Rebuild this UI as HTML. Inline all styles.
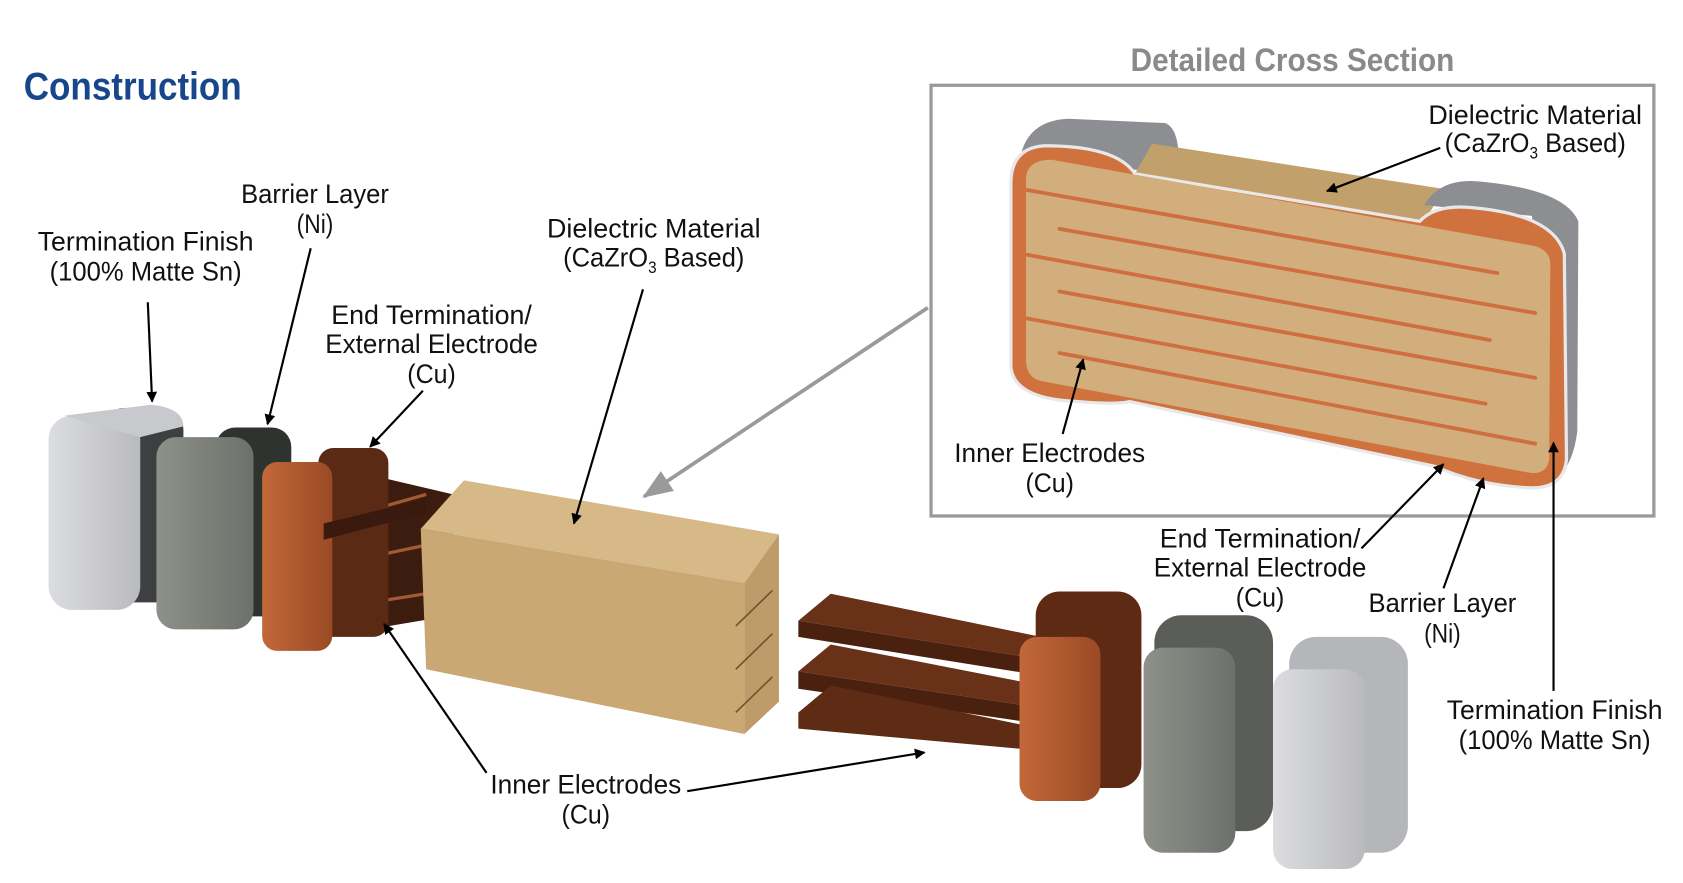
<!DOCTYPE html>
<html><head><meta charset="utf-8"><style>
html,body{margin:0;padding:0;background:#fff;}
svg{display:block;}
text{font-family:"Liberation Sans Narrow","Liberation Sans",sans-serif;font-size:25px;fill:#111;text-anchor:middle;}
</style></head><body>
<svg width="1683" height="883" viewBox="0 0 1560 818" preserveAspectRatio="none" xmlns="http://www.w3.org/2000/svg">
<defs>
<marker id="ah" markerWidth="10" markerHeight="10" refX="9" refY="5" orient="auto" markerUnits="userSpaceOnUse" viewBox="0 0 10 10"><path d="M0,0 L10,5 L0,10 z" fill="#000"/></marker>
<marker id="ag" markerWidth="28" markerHeight="22" refX="26" refY="11" orient="auto" markerUnits="userSpaceOnUse" viewBox="0 0 28 22"><path d="M0,0 L28,11 L0,22 z" fill="#9a9a9a"/></marker>
<linearGradient id="sn" x1="0" x2="1"><stop offset="0" stop-color="#dcdde0"/><stop offset="1" stop-color="#b9babd"/></linearGradient>
<linearGradient id="ni" x1="0" x2="1"><stop offset="0" stop-color="#8e918a"/><stop offset="1" stop-color="#6d716b"/></linearGradient>
<linearGradient id="cu" x1="0" x2="1"><stop offset="0" stop-color="#c2683a"/><stop offset="1" stop-color="#9a4a24"/></linearGradient>
</defs>

<text x="22" y="92" textLength="202" lengthAdjust="spacingAndGlyphs" style="font-size:36px;font-weight:bold;fill:#17478a;text-anchor:start">Construction</text>
<text x="1198" y="66" textLength="300" lengthAdjust="spacingAndGlyphs" style="font-size:30px;font-weight:bold;fill:#8a8a8a">Detailed Cross Section</text>

<!-- inset box -->
<rect x="863" y="79" width="670" height="399" fill="none" stroke="#999" stroke-width="3"/>
<!-- inset chip -->
<path d="M945,150 Q950,112 990,110 L1080,114 Q1095,120 1092,160 Z" fill="#8d8e92"/>
<path d="M1068,133 L1338,175 L1320,206 L1052,161 Z" fill="#c2a06c"/>
<path d="M1320,190 Q1335,165 1370,168 Q1450,175 1463,205 L1462,400 Q1458,430 1445,440 L1420,200 Z" fill="#8d8e92"/>
<path d="M937,170 Q937,137 968,135 Q1035,135 1052,161 L1316,205 Q1330,190 1360,192 Q1440,198 1450,235 L1452,425 Q1450,452 1420,452 Q1370,450 1330,432 L1047,372 Q1035,375 1000,372 Q940,370 937,340 Z" fill="#d0723e" stroke="#e8e8ea" stroke-width="3"/>
<path d="M951,165 Q952,148 975,148 L1423,228 Q1437,232 1437,245 L1436,425 Q1434,440 1418,438 L965,353 Q952,350 951,335 Z" fill="#d2ae7c"/>
<g stroke="#cf6f3f" stroke-width="3.5" fill="none" stroke-linecap="round">
<line x1="952" y1="176" x2="1388" y2="253"/>
<line x1="982" y1="212" x2="1423" y2="290"/>
<line x1="952" y1="236" x2="1381" y2="315"/>
<line x1="982" y1="270" x2="1423" y2="350"/>
<line x1="952" y1="295" x2="1377" y2="374"/>
<line x1="982" y1="327" x2="1423" y2="411"/>
</g>

<!-- gray connector -->
<line x1="860" y1="285" x2="597" y2="460" stroke="#9a9a9a" stroke-width="3.5" marker-end="url(#ag)"/>

<!-- left Sn -->
<rect x="95" y="378" width="75" height="180" rx="20" fill="#3e3f41"/>
<rect x="45" y="385" width="85" height="180" rx="22" fill="url(#sn)"/>
<path d="M60,385 L140,375 Q170,378 170,395 L130,405 Z" fill="#c8c9cc"/>
<!-- left Ni -->
<rect x="200" y="396" width="70" height="175" rx="18" fill="#2f332f"/>
<rect x="145" y="405" width="90" height="178" rx="18" fill="url(#ni)"/>
<!-- left Cu cap + electrodes -->
<polygon points="300,430 420,458 420,570 300,590" fill="#3d1c10"/>
<g stroke="#a35a34" stroke-width="3"><line x1="300" y1="485" x2="395" y2="458"/><line x1="300" y1="525" x2="395" y2="505"/><line x1="300" y1="565" x2="395" y2="550"/></g>
<rect x="295" y="415" width="65" height="175" rx="14" fill="#5a2a14"/>
<rect x="243" y="428" width="65" height="175" rx="14" fill="url(#cu)"/>
<polygon points="300,485 395,462 395,475 300,500" fill="#3a1a0e"/>
<!-- dielectric block -->
<polygon points="390,490 430,445 722,495 690,540" fill="#d7b987"/>
<polygon points="690,540 722,495 722,650 690,680" fill="#bd9c69"/>
<polygon points="390,490 690,540 690,680 395,620" fill="#c9a874"/>
<g stroke="#6e5330" stroke-width="1.5"><line x1="682" y1="580" x2="716" y2="547"/><line x1="682" y1="620" x2="716" y2="587"/><line x1="682" y1="660" x2="716" y2="627"/></g>

<!-- right electrodes -->
<polygon points="740,575 770,550 965,590 960,610" fill="#6a3119"/>
<polygon points="740,575 960,610 960,625 740,590" fill="#4a200e"/>
<polygon points="740,622 770,597 965,635 960,655" fill="#6a3119"/>
<polygon points="740,622 960,655 960,670 740,638" fill="#4a200e"/>
<polygon points="740,660 770,635 965,675 960,695 740,675" fill="#5e2b15"/>
<!-- right Cu cap -->
<rect x="960" y="548" width="98" height="182" rx="22" fill="#5e2a13"/>
<rect x="945" y="590" width="75" height="152" rx="16" fill="url(#cu)"/>
<!-- right Ni -->
<rect x="1070" y="570" width="110" height="200" rx="25" fill="#5a5d58"/>
<rect x="1060" y="600" width="85" height="190" rx="18" fill="url(#ni)"/>
<!-- right Sn -->
<rect x="1195" y="590" width="110" height="200" rx="25" fill="#b5b6b9"/>
<rect x="1180" y="620" width="85" height="185" rx="18" fill="url(#sn)"/>

<!-- arrows -->
<g stroke="#000" stroke-width="2" marker-end="url(#ah)">
<line x1="137" y1="280" x2="141" y2="372"/>
<line x1="288" y1="230" x2="248" y2="393"/>
<line x1="392" y1="362" x2="343" y2="414"/>
<line x1="596" y1="268" x2="532" y2="485"/>
<line x1="451" y1="716" x2="356" y2="578"/>
<line x1="637" y1="733" x2="857" y2="697"/>
<line x1="1335" y1="137" x2="1230" y2="177"/>
<line x1="985" y1="402" x2="1004" y2="333"/>
<line x1="1262" y1="508" x2="1338" y2="430"/>
<line x1="1338" y1="545" x2="1375" y2="443"/>
<line x1="1440" y1="640" x2="1440" y2="410"/>
</g>

<!-- labels -->
<text x="135" y="232" textLength="200" lengthAdjust="spacingAndGlyphs">Termination Finish</text>
<text x="135" y="260" textLength="178" lengthAdjust="spacingAndGlyphs">(100% Matte Sn)</text>
<text x="292" y="188" textLength="137" lengthAdjust="spacingAndGlyphs">Barrier Layer</text>
<text x="292" y="216" textLength="34" lengthAdjust="spacingAndGlyphs">(Ni)</text>
<text x="400" y="300" textLength="186" lengthAdjust="spacingAndGlyphs">End Termination/</text>
<text x="400" y="327" textLength="197" lengthAdjust="spacingAndGlyphs">External Electrode</text>
<text x="400" y="355" textLength="45" lengthAdjust="spacingAndGlyphs">(Cu)</text>
<text x="606" y="220" textLength="198" lengthAdjust="spacingAndGlyphs">Dielectric Material</text>
<text x="606" y="247" textLength="168" lengthAdjust="spacingAndGlyphs">(CaZrO<tspan font-size="15" dy="6">3</tspan><tspan dy="-6"> Based)</tspan></text>
<text x="543" y="735" textLength="177" lengthAdjust="spacingAndGlyphs">Inner Electrodes</text>
<text x="543" y="763" textLength="45" lengthAdjust="spacingAndGlyphs">(Cu)</text>
<text x="1423" y="115" textLength="198" lengthAdjust="spacingAndGlyphs">Dielectric Material</text>
<text x="1423" y="141" textLength="168" lengthAdjust="spacingAndGlyphs">(CaZrO<tspan font-size="15" dy="6">3</tspan><tspan dy="-6"> Based)</tspan></text>
<text x="973" y="428" textLength="177" lengthAdjust="spacingAndGlyphs">Inner Electrodes</text>
<text x="973" y="456" textLength="45" lengthAdjust="spacingAndGlyphs">(Cu)</text>
<text x="1168" y="507" textLength="186" lengthAdjust="spacingAndGlyphs">End Termination/</text>
<text x="1168" y="534" textLength="197" lengthAdjust="spacingAndGlyphs">External Electrode</text>
<text x="1168" y="562" textLength="45" lengthAdjust="spacingAndGlyphs">(Cu)</text>
<text x="1337" y="567" textLength="137" lengthAdjust="spacingAndGlyphs">Barrier Layer</text>
<text x="1337" y="595" textLength="34" lengthAdjust="spacingAndGlyphs">(Ni)</text>
<text x="1441" y="666" textLength="200" lengthAdjust="spacingAndGlyphs">Termination Finish</text>
<text x="1441" y="694" textLength="178" lengthAdjust="spacingAndGlyphs">(100% Matte Sn)</text>
</svg>
</body></html>
